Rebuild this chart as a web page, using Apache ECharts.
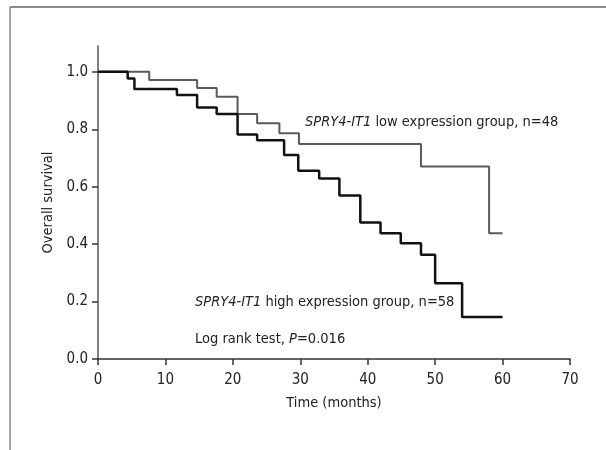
<!DOCTYPE html>
<html lang="en">
<head>
    <meta charset="UTF-8">
    <title>Overall survival by SPRY4-IT1 expression</title>
    <style>
        html, body {
            margin: 0;
            padding: 0;
            background: #ffffff;
        }
        #main {
            width: 606px;
            height: 450px;
        }
    </style>
    <script type="text/javascript" src="https://cdn.jsdelivr.net/npm/echarts@6/dist/echarts.min.js"></script>
</head>
<body>
<div id="main"></div>
<script type="text/javascript">
    // Kaplan-Meier steps: time of each drop (months) and survival after it
    var lowTime = [0, 7.6, 14.7, 17.6, 20.7, 23.6, 26.9, 29.8, 47.9, 58.0, 60];
    var lowSurv = [1.0, 0.972, 0.944, 0.913, 0.853, 0.821, 0.786, 0.749, 0.670, 0.438, 0.438];
    var highTime = [0, 4.4, 5.4, 11.7, 14.7, 17.6, 20.7, 23.6, 27.6, 29.7, 32.8, 35.8, 38.9, 41.9, 44.9, 47.9, 50.0, 54.0, 60];
    var highSurv = [1.0, 0.977, 0.940, 0.919, 0.876, 0.853, 0.782, 0.762, 0.710, 0.656, 0.629, 0.569, 0.475, 0.438, 0.403, 0.363, 0.264, 0.146, 0.146];
    var yTicks = [0, 0.2, 0.4, 0.6, 0.8, 1.0];

    var font = "'DejaVu Sans Condensed', 'Liberation Sans Narrow', sans-serif";
    var fs = 14.5;

    function pairs(xs, ys) {
        var out = [];
        for (var i = 0; i < xs.length; i++) {
            out.push([xs[i], ys[i]]);
        }
        return out;
    }

    var chart = echarts.init(document.getElementById('main'));
    var option = {
        animation: false,
        textStyle: {fontFamily: font},
        grid: {left: 98, right: 36, top: 46, bottom: 91, containLabel: false},
        xAxis: {
            type: 'value',
            min: 0,
            max: 70,
            interval: 10,
            name: 'Time (months)',
            nameLocation: 'middle',
            nameGap: 37,
            nameTextStyle: {color: '#222', fontSize: fs, fontFamily: font},
            splitLine: {show: false},
            axisLine: {lineStyle: {color: '#333', width: 1.5}},
            axisTick: {length: 6, lineStyle: {color: '#333', width: 1.5}},
            axisLabel: {color: '#222', fontSize: 15, margin: 14, fontFamily: font}
        },
        yAxis: {
            type: 'value',
            min: 0,
            max: 1.09,
            name: 'Overall survival',
            nameLocation: 'middle',
            nameGap: 40,
            nameTextStyle: {color: '#222', fontSize: fs, fontFamily: font},
            splitLine: {show: false},
            axisLine: {show: true, lineStyle: {color: '#555', width: 1.5}},
            axisTick: {show: true, length: 6, customValues: yTicks, lineStyle: {color: '#333', width: 1.5}},
            axisLabel: {
                color: '#222', fontSize: 15, margin: 10, fontFamily: font,
                customValues: yTicks,
                formatter: function (v) { return v.toFixed(1); }
            }
        },
        graphic: [
            {type: 'line', shape: {x1: 10, y1: 7, x2: 606, y2: 7}, style: {stroke: '#666', lineWidth: 1.5}},
            {type: 'line', shape: {x1: 10, y1: 7, x2: 10, y2: 450}, style: {stroke: '#888', lineWidth: 1.5}},
            {
                type: 'text', left: 305, top: 115,
                style: {
                    text: '{i|SPRY4-IT1} low expression group, n=48',
                    fill: '#222', fontSize: fs, fontFamily: font,
                    rich: {i: {fontStyle: 'italic', fontSize: fs, fontFamily: font, fill: '#222'}}
                }
            },
            {
                type: 'text', left: 195, top: 295,
                style: {
                    text: '{i|SPRY4-IT1} high expression group, n=58',
                    fill: '#222', fontSize: fs, fontFamily: font,
                    rich: {i: {fontStyle: 'italic', fontSize: fs, fontFamily: font, fill: '#222'}}
                }
            },
            {
                type: 'text', left: 195, top: 332,
                style: {
                    text: 'Log rank test, {i|P}=0.016',
                    fill: '#222', fontSize: fs, fontFamily: font,
                    rich: {i: {fontStyle: 'italic', fontSize: fs, fontFamily: font, fill: '#222'}}
                }
            }
        ],
        series: [
            {
                name: 'low',
                type: 'line',
                step: 'end',
                symbol: 'none',
                data: pairs(lowTime, lowSurv),
                lineStyle: {color: '#5a5a5a', width: 2}
            },
            {
                name: 'high',
                type: 'line',
                step: 'end',
                symbol: 'none',
                data: pairs(highTime, highSurv),
                lineStyle: {color: '#111', width: 2.5}
            }
        ]
    };
    chart.setOption(option);
</script>
</body>
</html>
